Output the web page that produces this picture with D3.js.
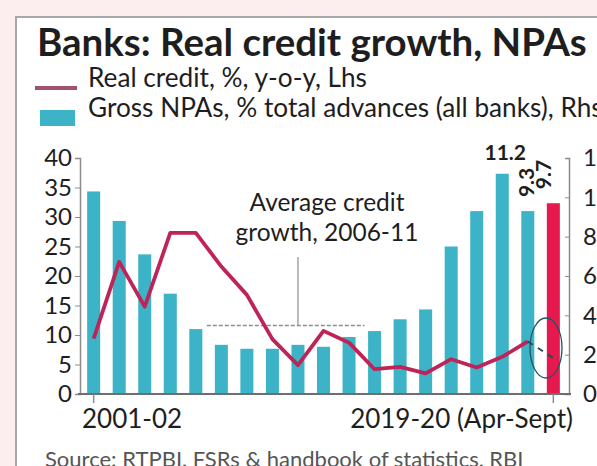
<!DOCTYPE html>
<html>
<head>
<meta charset="utf-8">
<script src="https://cdn.jsdelivr.net/npm/d3@7"></script>
<style>
  body { margin: 0; background: #fcedef; }
  text { font-family: Lato, sans-serif; fill: #1e1e1e; }
</style>
</head>
<body>
<svg id="chart" width="597" height="466"></svg>
<script>
// fiscal years on the x axis
var years = ["2001-02", "2002-03", "2003-04", "2004-05", "2005-06", "2006-07", "2007-08",
  "2008-09", "2009-10", "2010-11", "2011-12", "2012-13", "2013-14", "2014-15", "2015-16",
  "2016-17", "2017-18", "2018-19", "2019-20 (Apr-Sept)"];
// gross NPAs, % of total advances (rhs)
var npaValues = [10.3, 8.8, 7.1, 5.1, 3.3, 2.5, 2.3, 2.3, 2.5, 2.4, 2.9, 3.2, 3.8, 4.3, 7.5, 9.3, 11.2, 9.3, 9.7];
// real credit growth, % y-o-y (lhs)
var creditValues = [9.4, 22.4, 14.8, 27.3, 27.3, 21.6, 16.8, 9.3, 4.9, 10.7, 8.7, 4.2, 4.6, 3.5, 5.9, 4.5, 6.3, 8.9, 6.1];
var avgCredit = 11.6;
var avgYears = ["2006-07", "2011-12"];
var leftTicks = [0, 5, 10, 15, 20, 25, 30, 35, 40];
var rightTicks = [0, 2, 4, 6, 8, 10, 12];
var barLabels = [{ year: "2017-18", text: "11.2" }, { year: "2018-19", text: "9.3" }, { year: "2019-20 (Apr-Sept)", text: "9.7" }];
var xLabels = ["2001-02", "2019-20 (Apr-Sept)"];
var legendLabels = ["Real credit, %, y-o-y, Lhs", "Gross NPAs, % total advances (all banks), Rhs"];

var teal = "#3db3c7", red = "#e6194f", lineCol = "#bf2458", axisCol = "#8c8c8c";

var svg = d3.select("#chart");

// white panel with grey frame
svg.append("rect")
  .attr("x", 16).attr("y", 17).attr("width", 620).attr("height", 500)
  .style("fill", "#fff").style("stroke", "#a8a8a8").style("stroke-width", 2);

var title = svg.append("text").attr("x", 37).attr("y", 56)
  .attr("font-size", 29).style("font-weight", "bold")
  .text("Banks: Real credit growth, NPAs");
// stretch the title to the width it has in the original
title.attr("font-size", 29 * 550 / title.node().getComputedTextLength());

// legend: both rows share one size, set so that the second row runs off the right edge
svg.append("line").attr("x1", 35).attr("x2", 77).attr("y1", 88).attr("y2", 88)
  .style("stroke", "#a4516d").style("stroke-width", 4);
svg.append("rect").attr("x", 40).attr("y", 110).attr("width", 35).attr("height", 16)
  .style("fill", teal);
var leg = svg.selectAll(".leg").data(legendLabels).enter().append("text")
  .attr("class", "leg").attr("x", 88).attr("y", function(d, i) { return 87 + i * 30; })
  .attr("font-size", 20).text(function(d) { return d; });
var legSize = 20 * 515 / leg.nodes()[1].getComputedTextLength();
leg.attr("font-size", legSize);

var x = d3.scaleBand().domain(years).range([80, 567]).paddingInner(0.49).paddingOuter(0.28);
var yL = d3.scaleLinear().domain([0, 40]).range([394, 158]);
var yR = d3.scaleLinear().domain([0, 12]).range([394, 158]);
var cx = function(d) { return x(d) + x.bandwidth() / 2; };

// bars
svg.append("g").selectAll("rect")
  .data(years).enter().append("rect")
  .attr("x", function(d) { return x(d); })
  .attr("width", x.bandwidth())
  .attr("y", function(d, i) { return yR(npaValues[i]); })
  .attr("height", function(d, i) { return yR(0) - yR(npaValues[i]); })
  .style("fill", function(d, i) { return i == years.length - 1 ? red : teal; });

// average credit growth marker
svg.append("line")
  .attr("x1", x(avgYears[0]) - 8).attr("x2", x(avgYears[1]) + x.bandwidth() + 9)
  .attr("y1", yL(avgCredit)).attr("y2", yL(avgCredit))
  .style("stroke", "#8e8e8e").style("stroke-width", 1.5).style("stroke-dasharray", "4,2");
svg.append("line")
  .attr("x1", cx("2009-10")).attr("x2", cx("2009-10"))
  .attr("y1", 257).attr("y2", yL(avgCredit))
  .style("stroke", "#8e8e8e").style("stroke-width", 1.2);
var ann = svg.append("text").attr("text-anchor", "middle").attr("font-size", 24.5);
ann.append("tspan").attr("x", 327).attr("y", 211).text("Average credit");
ann.append("tspan").attr("x", 327).attr("y", 241).text("growth, 2006-11");

// real credit line, last point dashed
var line = d3.line()
  .x(function(d) { return cx(d.year); })
  .y(function(d) { return yL(d.v); });
var pts = years.map(function(y, i) { return { year: y, v: creditValues[i] }; });
svg.append("path").datum(pts.slice(0, -1)).attr("d", line)
  .style("fill", "none").style("stroke", lineCol).style("stroke-width", 3.8)
  .style("stroke-linejoin", "round");
svg.append("path").datum(pts.slice(-2)).attr("d", line)
  .style("fill", "none").style("stroke", "#27485a").style("stroke-width", 2)
  .style("stroke-dasharray", "6,6");
svg.append("ellipse").attr("cx", 546).attr("cy", 348).attr("rx", 16).attr("ry", 30)
  .style("fill", "none").style("stroke", "#1f5566").style("stroke-width", 1.3);

// axes
var gL = svg.append("g").attr("transform", "translate(80,0)")
  .call(d3.axisLeft(yL).tickValues(leftTicks).tickSize(5).tickPadding(3));
var gR = svg.append("g").attr("transform", "translate(569,0)")
  .call(d3.axisRight(yR).tickValues(rightTicks).tickSize(-4).tickPadding(14));
[gL, gR].forEach(function(g) {
  g.attr("font-family", null).attr("font-size", 24);
  g.select(".domain").style("stroke", axisCol).style("stroke-width", 1.5);
  g.selectAll(".tick line").style("stroke", axisCol);
  g.selectAll("text").style("fill", "#1e1e1e");
});
svg.append("line").attr("x1", 78).attr("x2", 571).attr("y1", 394).attr("y2", 394)
  .style("stroke", "#6e6e6e").style("stroke-width", 2);
xLabels.forEach(function(d, i) {
  svg.append("line").attr("x1", cx(d)).attr("x2", cx(d)).attr("y1", 394).attr("y2", 403)
    .style("stroke", axisCol).style("stroke-width", 1.5);
  svg.append("text").attr("y", 428).attr("font-size", 26)
    .attr("x", i == 0 ? 82 : 573).attr("text-anchor", i == 0 ? "start" : "end").text(d);
});

// value labels
barLabels.forEach(function(b) {
  var v = npaValues[years.indexOf(b.year)];
  if (b.text == "11.2") {
    svg.append("text").attr("x", cx(b.year) + 3).attr("y", 160).attr("text-anchor", "middle")
      .attr("font-size", 21).style("font-weight", "bold").text(b.text);
  } else {
    var px = b.text == "9.3" ? cx(b.year) + 6 : cx(b.year) - 2;
    svg.append("text")
      .attr("transform", "translate(" + px + "," + (yR(v) - 14) + ") rotate(-90)")
      .attr("font-size", 21).style("font-weight", "bold").text(b.text);
  }
});

svg.append("text").attr("x", 45).attr("y", 467).attr("font-size", 22).style("fill", "#555")
  .text("Source: RTPBI, FSRs & handbook of statistics, RBI");
</script>
</body>
</html>
